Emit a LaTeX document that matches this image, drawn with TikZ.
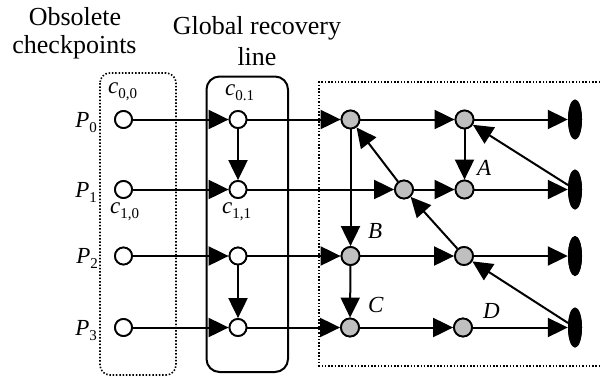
\documentclass[tikz,border=0pt]{standalone}
\usepackage{fontspec}
\setmainfont{Liberation Serif}
\usetikzlibrary{arrows.meta,shapes.geometric}
\newcommand\ilbl[2]{{\itshape #1}\raisebox{-5pt}{\fontsize{15}{15}\selectfont #2}}
\begin{document}
\begin{tikzpicture}[x=1pt,y=-1pt,
  ttl/.style={font=\fontsize{26}{28}\selectfont, inner sep=0, anchor=base},
  plbl/.style={font=\fontsize{23}{23}\selectfont, inner sep=0},
  obs/.style={circle, draw, fill=white, minimum size=17pt, inner sep=0, line width=1.8pt},
  gry/.style={circle, draw, fill=gray!50, minimum size=18pt, inner sep=0, line width=1.8pt},
  blk/.style={ellipse, fill=black, minimum width=14pt, minimum height=40pt, inner sep=0},
  arr/.style={-{Triangle[length=20pt,width=19pt]}, line width=2pt},
  dotbox/.style={line width=1.6pt, dash pattern=on 1.5pt off 1.8pt},
]
\useasboundingbox (0,0) rectangle (601,378);
% boxes
\draw[dotbox, rounded corners=10pt] (100,73) rectangle (176,375);
\draw[line width=2pt, rounded corners=13pt] (206.5,76.5) rectangle (288,372);
\draw[dotbox] (610,82) -- (319,82) -- (319,366) -- (610,366);
% titles
\node[ttl] (t1) at (75,25) {Obsolete};
\node[ttl] (t2) at (74.5,53) {checkpoints};
\node[ttl] (t3) at (257,34) {Global recovery};
\node[ttl] (t4) at (257,65) {line};
% process labels
\node[plbl, anchor=base east] (p0) at (97,127) {\ilbl{P}{0}};
\node[plbl, anchor=base east] (p1) at (97,197) {\ilbl{P}{1}};
\node[plbl, anchor=base east] (p2) at (98,263.5) {\ilbl{P}{2}};
\node[plbl, anchor=base east] (p3) at (97,335) {\ilbl{P}{3}};
% nodes
\foreach \n/\y in {0/119.5,1/189.5,2/256,3/327.5}{
  \node[obs] (o\n) at (123.5,\y) {};
  \node[obs] (g\n) at (238,\y) {};
  \node[blk] (e\n) at (575,\y) {};
}
\node[gry] (r00) at (350.5,119.5) {};
\node[gry] (r10) at (404,189.5) {};
\node[gry] (r20) at (350.5,256) {};
\node[gry] (r30) at (350,327.5) {};
\node[gry] (r01) at (464.5,119.5) {};
\node[gry] (r11) at (464.5,189.5) {};
\node[gry] (r21) at (464,256) {};
\node[gry] (r31) at (463,327.5) {};
% checkpoint labels
\node[plbl, anchor=base west] (c00) at (108,93) {\ilbl{c}{0,0}};
\node[plbl, anchor=base west] (c01) at (225,95) {\ilbl{c}{0.1}};
\node[plbl, anchor=base west] (c10) at (110,213) {\ilbl{c}{1,0}};
\node[plbl, anchor=base west] (c11) at (222,213) {\ilbl{c}{1,1}};
\node[plbl, anchor=base west] (la) at (477,175) {\itshape A};
\node[plbl, anchor=base west] (lb) at (368,238) {\itshape B};
\node[plbl, anchor=base west] (lc) at (368,312) {\itshape C};
\node[plbl, anchor=base west] (ld) at (483,318) {\itshape D};
% horizontal messages
\draw[arr] (o0) -- (g0); \draw[arr] (g0) -- (r00); \draw[arr] (r00) -- (r01); \draw[arr] (r01) -- (e0);
\draw[arr] (o1) -- (g1); \draw[arr] (g1) -- (r10); \draw[arr] (r10) -- (r11); \draw[arr] (r11) -- (e1);
\draw[arr] (o2) -- (g2); \draw[arr] (g2) -- (r20); \draw[arr] (r20) -- (r21); \draw[arr] (r21) -- (e2);
\draw[arr] (o3) -- (g3); \draw[arr] (g3) -- (r30); \draw[arr] (r30) -- (r31); \draw[arr] (r31) -- (e3);
% vertical
\draw[arr] (g0) -- (g1);
\draw[arr] (g2) -- (g3);
\draw[arr] (r00) -- (r20);
\draw[arr] (r20) -- (r30);
\draw[arr] (r01) -- (r11);
% diagonals
\draw[arr] (r10) -- (r00);
\draw[arr] (e1) -- (r01);
\draw[arr] (r21) -- (r10);
\draw[arr] (e3) -- (r21);
% redraw nodes on top
\foreach \n/\y in {0/119.5,1/189.5,2/256,3/327.5}{
  \node[obs] at (o\n) {};
  \node[obs] at (g\n) {};
  \node[blk] at (e\n) {};
}
\foreach \m in {r00,r10,r20,r30,r01,r11,r21,r31}{ \node[gry] at (\m) {}; }
\end{tikzpicture}
\end{document}
